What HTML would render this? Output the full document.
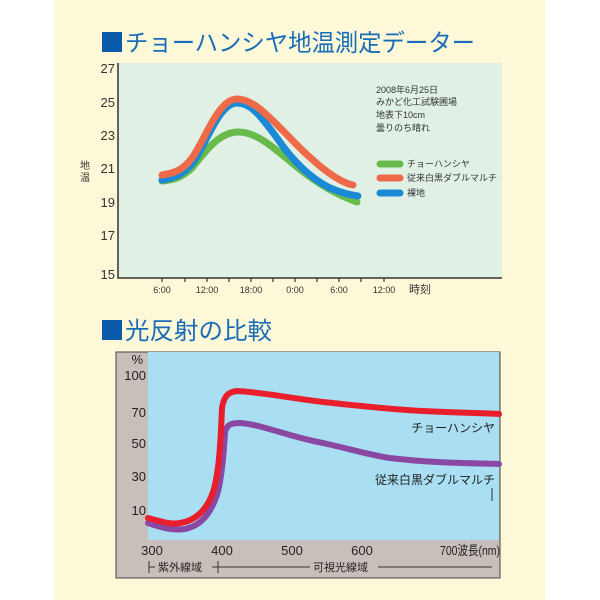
<!DOCTYPE html>
<html><head><meta charset="utf-8"><style>
html,body{margin:0;padding:0;background:#fff;}
svg{display:block;}
text{font-family:"Liberation Sans","Noto Sans CJK JP",sans-serif;}
</style></head><body>
<svg width="600" height="600" viewBox="0 0 600 600" xmlns="http://www.w3.org/2000/svg">
<rect x="0" y="0" width="600" height="600" fill="#fff"/>
<rect x="54" y="0" width="491" height="600" fill="#fdf8d8"/>

<rect x="102" y="32" width="20" height="20" fill="#0a5aac"/>
<text x="125" y="51" font-size="24" fill="#1a6cb8" textLength="350" lengthAdjust="spacingAndGlyphs">チョーハンシヤ地温測定データー</text>

<rect x="118" y="63" width="384" height="215" fill="#e0f0e4"/>
<polyline points="118,63 118,278 502,278" fill="none" stroke="#333" stroke-width="1.5"/>
<g font-size="13" fill="#333" text-anchor="end">
<text x="115" y="73">27</text>
<text x="115" y="107">25</text>
<text x="115" y="140">23</text>
<text x="115" y="173">21</text>
<text x="115" y="207">19</text>
<text x="115" y="240">17</text>
<text x="115" y="279">15</text>
</g>
<text x="80" y="169" font-size="10" fill="#333">地</text>
<text x="80" y="181" font-size="10" fill="#333">温</text>
<g stroke="#333" stroke-width="1.2">
<line x1="162" y1="278" x2="162" y2="282"/><line x1="185" y1="278" x2="185" y2="282"/>
<line x1="207" y1="278" x2="207" y2="282"/><line x1="229" y1="278" x2="229" y2="282"/>
<line x1="251" y1="278" x2="251" y2="282"/><line x1="273" y1="278" x2="273" y2="282"/>
<line x1="295" y1="278" x2="295" y2="282"/><line x1="317" y1="278" x2="317" y2="282"/>
<line x1="339" y1="278" x2="339" y2="282"/><line x1="361" y1="278" x2="361" y2="282"/>
<line x1="384" y1="278" x2="384" y2="282"/>
</g>
<g font-size="9" fill="#333" text-anchor="middle">
<text x="162" y="293">6:00</text><text x="207" y="293">12:00</text><text x="251" y="293">18:00</text>
<text x="295" y="293">0:00</text><text x="339" y="293">6:00</text><text x="384" y="293">12:00</text>
</g>
<text x="409" y="293" font-size="11" fill="#333">時刻</text>

<g font-size="9" fill="#333">
<text x="376" y="93">2008年6月25日</text>
<text x="376" y="105">みかど化工試験圃場</text>
<text x="376" y="118">地表下10cm</text>
<text x="376" y="131">曇りのち晴れ</text>
</g>

<g fill="none" stroke-linecap="round" stroke-width="7">
<path d="M162,181 C175,180 182,177 192,168 C205,152 218,133 237,132 C255,131 272,146 297,167 C320,186 340,196 357,202" stroke="#66bb4a"/>
<path d="M162,180 C175,178 183,174 192,164 C205,148 218,103 237,103 C252,103 262,118 277,138 C292,160 310,178 330,188 C342,193 350,195 358,196" stroke="#1a8ad6"/>
<path d="M162,175 C175,173 183,170 192,158 C205,140 218,99 237,99 C255,99 272,120 297,145 C318,166 338,182 353,185" stroke="#ee6a48"/>
<line x1="380" y1="164" x2="400" y2="164" stroke="#66bb4a"/>
<line x1="380" y1="178" x2="400" y2="178" stroke="#ee6a48"/>
<line x1="380" y1="193" x2="400" y2="193" stroke="#1a8ad6"/>
</g>
<g font-size="9" fill="#333">
<text x="407" y="167">チョーハンシヤ</text>
<text x="407" y="181">従来白黒ダブルマルチ</text>
<text x="407" y="196">裸地</text>
</g>

<rect x="102" y="320" width="20" height="20" fill="#0a5aac"/>
<text x="125" y="339" font-size="24" fill="#1a6cb8" textLength="147" lengthAdjust="spacingAndGlyphs">光反射の比較</text>

<rect x="116" y="352" width="384" height="226" fill="#c9bfba" stroke="#444" stroke-width="1"/>
<rect x="148" y="352" width="351" height="188" fill="#a9def3"/>
<g font-size="13" fill="#222" text-anchor="end">
<text x="143" y="364">%</text>
<text x="146" y="380">100</text>
<text x="146" y="417">70</text>
<text x="146" y="448">50</text>
<text x="146" y="481">30</text>
<text x="146" y="515">10</text>
</g>
<g font-size="13" fill="#222" text-anchor="middle">
<text x="152" y="555">300</text><text x="222" y="555">400</text><text x="292" y="555">500</text><text x="362" y="555">600</text>
</g>
<text x="440" y="555" font-size="13" fill="#222" textLength="60" lengthAdjust="spacingAndGlyphs">700波長(nm)</text>
<g stroke="#333" stroke-width="1">
<line x1="149" y1="561" x2="149" y2="573"/><line x1="149" y1="567" x2="155" y2="567"/>
<line x1="212" y1="567" x2="245" y2="567"/><line x1="218" y1="561" x2="218" y2="573"/>
<line x1="245" y1="567" x2="310" y2="567"/>
<line x1="378" y1="567" x2="492" y2="567"/>
</g>
<text x="158" y="571" font-size="11" fill="#222">紫外線域</text>
<text x="313" y="571" font-size="11" fill="#222">可視光線域</text>

<g fill="none" stroke-linecap="round">
<path d="M148,523 C160,527 172,531 185,529 C200,526 210,515 217,495 C222,478 224,450 225,432 C227,424 232,423 240,423 C260,424 290,437 323,443 C350,449 370,455 390,458 C430,463 470,463 499,464" stroke="#8a48a2" stroke-width="6"/>
<path d="M148,518 C160,521 170,525 180,523 C195,521 207,510 213,492 C220,470 221,430 222,408 C224,396 228,392 237,391 C260,392 290,398 323,402 C360,406 400,410 423,411 C460,413 485,413 499,414" stroke="#e81e2c" stroke-width="6"/>
</g>
<g font-size="12" fill="#222" text-anchor="end">
<text x="495" y="432">チョーハンシヤ</text>
<text x="495" y="484">従来白黒ダブルマルチ</text>
</g>
<line x1="492" y1="488" x2="492" y2="501" stroke="#333" stroke-width="1"/>
</svg>
</body></html>
